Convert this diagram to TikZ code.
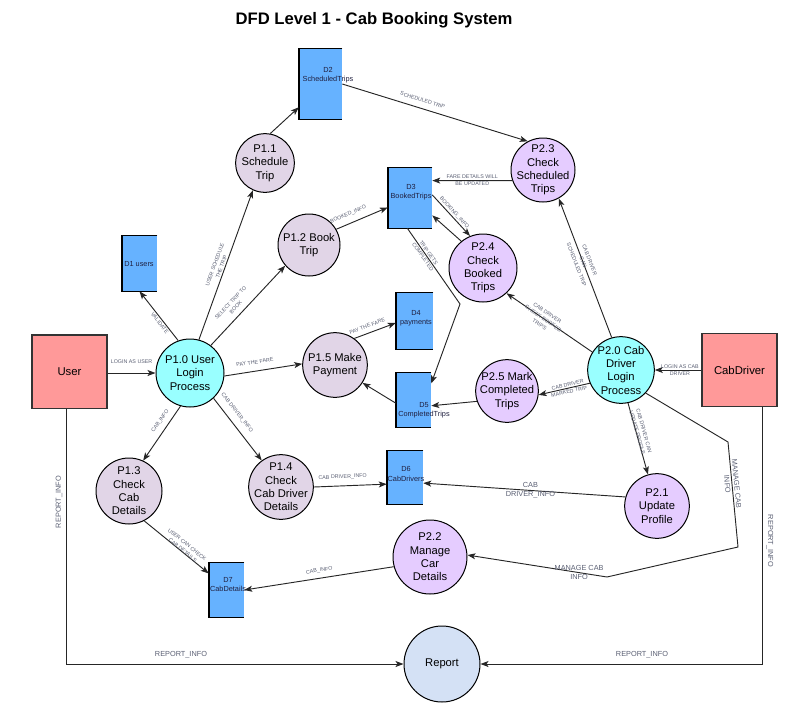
\documentclass[tikz,border=0pt]{standalone}
\usepackage{fontspec}
\setmainfont{Liberation Sans}
\usetikzlibrary{arrows.meta}
\definecolor{entred}{HTML}{FF9999}
\definecolor{cyanfill}{HTML}{99FFFF}
\definecolor{pgray}{HTML}{E1D5E7}
\definecolor{ppurple}{HTML}{E5CCFF}
\definecolor{storeblue}{HTML}{66B2FF}
\definecolor{repblue}{HTML}{D4E1F5}
\definecolor{lblgray}{HTML}{5A5F73}
\definecolor{storetxt}{HTML}{202040}
\begin{document}
\begin{tikzpicture}[x=0.75pt,y=-0.75pt,
  proc/.style={circle, draw=black, line width=0.75pt, inner sep=0pt},
  ptext/.style={align=center, inner sep=0pt, font=\fontsize{8.4}{10}\selectfont},
  pone/.style={proc, fill=pgray},
  ptwo/.style={proc, fill=ppurple},
  plogin/.style={proc, fill=cyanfill},
  ent/.style={rectangle, draw=black!80, line width=1pt, fill=entred,
    minimum width=56.25pt, minimum height=55pt, font=\fontsize{8.5}{10}\selectfont},
  store/.style={rectangle, fill=storeblue, inner sep=0pt},
  storetext/.style={align=center, inner sep=0pt, text=storetxt, font=\fontsize{5.5}{7}\selectfont},
  flow/.style={-{Stealth[length=6pt,width=4.5pt,inset=1.5pt]}, line width=0.7pt, draw=black!85},
  lbl/.style={font=\fontsize{4}{5.2}\selectfont, text=lblgray, inner sep=1pt, align=center},
  lblb/.style={lbl, font=\fontsize{5.5}{7}\selectfont},
]
\useasboundingbox (0,0) rectangle (793,711);

\node[font=\bfseries\fontsize{12.5}{15}\selectfont] (title) at (374,20) {DFD Level 1 - Cab Booking System};

% external entities
\node[ent] (User) at (69.5,371.5) {User};
\node[ent] (CabDriver) at (739.5,370) {CabDriver};

% processes
\node[plogin, minimum size=51pt, label={[ptext]center:P1.0 User\\Login\\Process}] (P10) at (190,373) {};
\node[pone, minimum size=44pt, label={[ptext]center:P1.1\\Schedule\\Trip}] (P11) at (265,163) {};
\node[pone, minimum size=46.5pt, label={[ptext]center:P1.2 Book\\Trip}] (P12) at (309,245) {};
\node[pone, minimum size=49.5pt, label={[ptext]center:P1.3\\Check\\Cab\\Details}] (P13) at (129,491) {};
\node[pone, minimum size=48.5pt, label={[ptext]center:P1.4\\Check\\Cab Driver\\Details}] (P14) at (281,487) {};
\node[pone, minimum size=48.5pt, label={[ptext]center:P1.5 Make\\Payment}] (P15) at (335,365) {};
\node[plogin, minimum size=50pt, label={[ptext]center:P2.0 Cab\\Driver\\Login\\Process}] (P20) at (621,370) {};
\node[ptwo, minimum size=48.5pt, label={[ptext]center:P2.1\\Update\\Profile}] (P21) at (657,506) {};
\node[ptwo, minimum size=55.5pt, label={[ptext]center:P2.2\\Manage\\Car\\Details}] (P22) at (430,557) {};
\node[ptwo, minimum size=48pt, label={[ptext]center:P2.3\\Check\\Scheduled\\Trips}] (P23) at (543,170) {};
\node[ptwo, minimum size=51pt, label={[ptext]center:P2.4\\Check\\Booked\\Trips}] (P24) at (483,268) {};
\node[ptwo, minimum size=47pt, label={[ptext]center:P2.5 Mark\\Completed\\Trips}] (P25) at (507,391) {};
\node[proc, fill=repblue, minimum size=57pt, font=\fontsize{8.4}{10}\selectfont] (Report) at (442,664) {Report};

% data stores
\node[store, minimum width=26.25pt, minimum height=41.25pt] (D1) at (139.5,263.5) {};
\node[store, minimum width=32.25pt, minimum height=52.5pt] (D2) at (320.5,84) {};
\node[store, minimum width=33pt, minimum height=45pt] (D3) at (410,198) {};
\node[store, minimum width=27.75pt, minimum height=42pt] (D4) at (414.5,321) {};
\node[store, minimum width=26.25pt, minimum height=40.5pt] (D5) at (413.5,400) {};
\node[store, minimum width=27pt, minimum height=39.75pt] (D6) at (405,477.5) {};
\node[store, minimum width=26.25pt, minimum height=40.5pt] (D7) at (226.5,590) {};
\foreach \s in {D1,D2,D3,D4,D5,D6,D7}{
  \draw[line width=1pt] (\s.north east) -- (\s.north west) -- (\s.south west) -- (\s.south east);
  \draw[line width=1.6pt] (\s.north west) -- (\s.south west);
}
\node[storetext] (D1t) at (139,264) {D1 users};
\node[storetext] (D2t) at (328,75.5) {D2\\ScheduledTrips};
\node[storetext] (D3t) at (411,192) {D3\\BookedTrips};
\node[storetext] (D4t) at (416,318.5) {D4\\payments};
\node[storetext] (D5t) at (424,410.5) {D5\\CompletedTrips};
\node[storetext] (D6t) at (406,474) {D6\\CabDrivers};
\node[storetext] (D7t) at (228,584.5) {D7\\CabDetails};

% named bends
\coordinate (k1) at (460,304);
\coordinate (m1) at (728,442);
\coordinate (m2) at (738,547);
\coordinate (m3) at (607,577);

% flows of the user side
\draw[flow] (User.east |- P10) -- node[lbl, above=6pt, pos=0.5]{LOGIN AS USER} (P10.west);
\draw[flow] (P10.110) -- node[lbl, sloped, below, pos=0.4]{VALIDATE} (D1.south);
\draw[flow] (P10.75) -- node[lbl, sloped, above, pos=0.48]{USER SCHEDULE\\THE TRIP} (P11.246);
\draw[flow] (P11.80) -- (D2.227);
\draw[flow] (D2.east) -- node[lbl, sloped, above=3.5pt, pos=0.42]{SCHEDULED TRIP} (P23.118);
\draw[flow] (P10.53) -- node[lbl, sloped, above=3pt, pos=0.41]{SELECT TRIP TO\\BOOK} (P12.221);
\draw[flow] (P12.30) -- node[lbl, sloped, above=3.5pt, pos=0.3]{BOOKED\_INFO} (D3.203);
\draw[flow] (P10.355) -- node[lbl, sloped, above=4pt, pos=0.41]{PAY THE FARE} (P15.178);
\draw[flow] (P15.54) -- node[lbl, sloped, above=2.5pt, pos=0.37]{PAY THE FARE} (D4.186);
\draw[flow] (D5.190) -- (P15.327);
\draw[flow] (P10.254) -- node[lbl, sloped, above=3pt, pos=0.36]{CAB\_INFO} (P13.65);
\draw[flow] (P10.313) -- node[lbl, sloped, above=4pt, pos=0.33]{CAB DRIVER\_INFO} (P14.126);
\draw[flow] (P14.0) -- node[lbl, sloped, above=3.5pt, pos=0.4]{CAB DRIVER\_INFO} (D6.200);
\draw[flow] (P13.297) -- node[lbl, sloped, above=-1.5pt, pos=0.58]{USER CAN CHECK\\CAB DETAILS} (D7.137);

% flows of the driver side
\draw[flow] (P23.199) -- node[lbl, pos=0.5]{FARE DETAILS WILL\\BE UPDATED} (D3.38);
\draw[flow] (D3.8) -- node[lbl, sloped, above, pos=0.5]{BOOKING\_INFO} (P24.112);
\draw[flow] (P24.129) -- (D3.322);
\draw[flow] (D3.265) -- node[lbl, sloped, pos=0.35]{TRIP GETS\\COMPLETED} (k1) -- (D5.43);
\draw[flow] (P25.199) -- (D5.342);
\draw[flow] (CabDriver.west) -- node[lbl, pos=0.46]{LOGIN AS CAB\\DRIVER} (P20.east);
\draw[flow] (P20.106) -- node[lbl, sloped, pos=0.54]{CAB DRIVER\\CAN\\SCHEDULED TRIP} (P23.299);
\draw[flow] (P20.148) -- node[lbl, sloped, pos=0.57]{CAB DRIVER\\CHECK BOOKED\\TRIPS} (P24.313);
\draw[flow] (P20.203) -- node[lbl, sloped, pos=0.42]{CAB DRIVER\\MARKED TRIP} (P25.353);
\draw[flow] (P20.282) -- node[lbl, sloped, above=-2pt, pos=0.42]{CAB DRIVER CAN\\UPDATE PROFILE} (P21.106);
\draw[flow] (P21.164) -- node[lblb, pos=0.47]{CAB\\DRIVER\_INFO} (D6.343);
\draw[flow] (P20.317) -- (m1) -- node[lblb, sloped, pos=0.4]{MANAGE CAB\\INFO} (m2) -- (m3)
   -- node[lblb, pos=0.2]{MANAGE CAB\\INFO} (P22.3);
\draw[flow] (P22.195) -- node[lbl, sloped, above=2.5pt, pos=0.49]{CAB\_INFO} (D7.east);

% reports
\draw[flow] (User.266) |- (Report.west);
\draw[flow] (CabDriver.302) |- (Report.east);
\node[lblb, rotate=90] (rl1) at (59,502) {REPORT\_INFO};
\node[lblb, rotate=-90] (rl2) at (770,541) {REPORT\_INFO};
\node[lblb] (rl3) at (181,655) {REPORT\_INFO};
\node[lblb] (rl4) at (642,655) {REPORT\_INFO};
\end{tikzpicture}
\end{document}
